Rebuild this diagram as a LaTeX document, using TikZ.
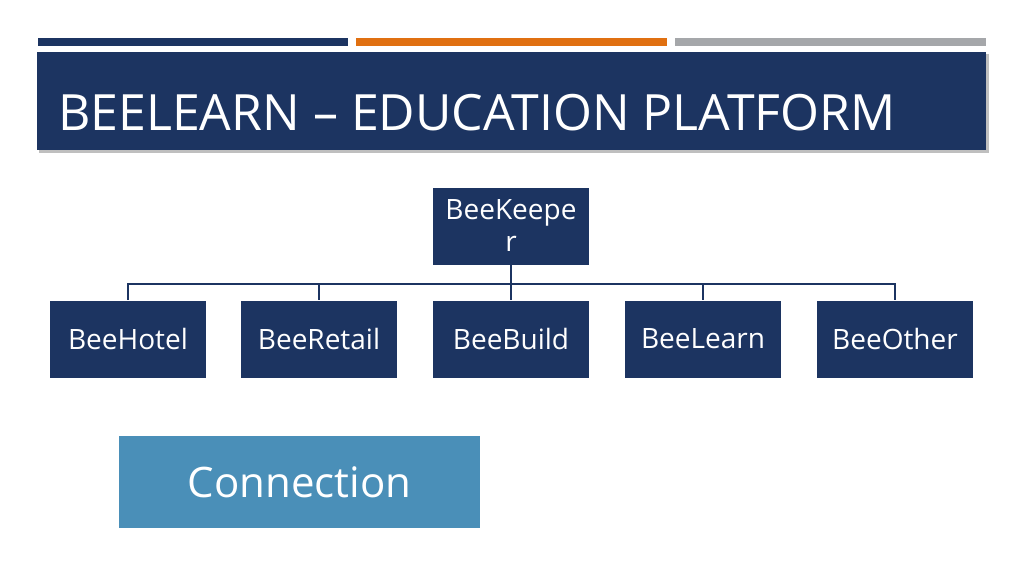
\documentclass[tikz,border=0pt]{standalone}
\usepackage{fontspec}
\setmainfont{Open Sans}
\usetikzlibrary{positioning}
\definecolor{navy}{HTML}{1C3461}
\definecolor{beeorange}{HTML}{E07011}
\definecolor{beegray}{HTML}{A5A7AA}
\definecolor{beeblue}{HTML}{4A8FB8}
\tikzset{
  % org chart boxes
  unit/.style={fill=navy, draw=white, minimum width=157pt, minimum height=78pt,
    text=white, font=\fontsize{28}{30}\selectfont, inner sep=0pt, align=center},
  % header bars
  bar/.style={minimum height=8pt, inner sep=0pt},
  link/.style={navy, line width=1.2pt},
}
\begin{document}
\begin{tikzpicture}[x=1pt, y=-1pt]
  \useasboundingbox (0,0) rectangle (1024,575);
  \fill[white] (0,0) rectangle (1024,575);

  \fill[navy] (38,38) rectangle (348,46);
  \fill[beeorange] (356,38) rectangle (667,46);
  \fill[beegray] (675,38) rectangle (986,46);

  \fill[black!25] (39,54) rectangle (989,153);
  \fill[navy] (37,52) rectangle (986,150);
  \node[anchor=base west, text=white, font=\fontsize{50}{52}\selectfont, inner sep=0pt]
    (title) at (58,130) {BEELEARN – EDUCATION PLATFORM};

  \node[unit, align=center, text width=150pt, font=\fontsize{28}{34}\selectfont] (keeper) at (511,226) {BeeKeepe\\[-2pt]r};
  \node[unit] (hotel)  at (128,339) {BeeHotel};
  \node[unit] (retail) at (319,339) {BeeRetail};
  \node[unit] (build)  at (511,339) {BeeBuild};
  \node[unit] (learn)  at (703,339) {BeeLearn};
  \node[unit] (other)  at (895,339) {BeeOther};

  \coordinate (hub) at (511,284);
  \draw[link] (keeper.south) -- (hub);
  \foreach \child in {hotel, retail, build, learn, other}
    \draw[link] (hub) -| (\child.north);

  \node[fill=beeblue, text=white, minimum width=361pt, minimum height=92pt,
    font=\fontsize{42}{44}\selectfont] (conn) at (299.5,482) {Connection};
\end{tikzpicture}
\end{document}
